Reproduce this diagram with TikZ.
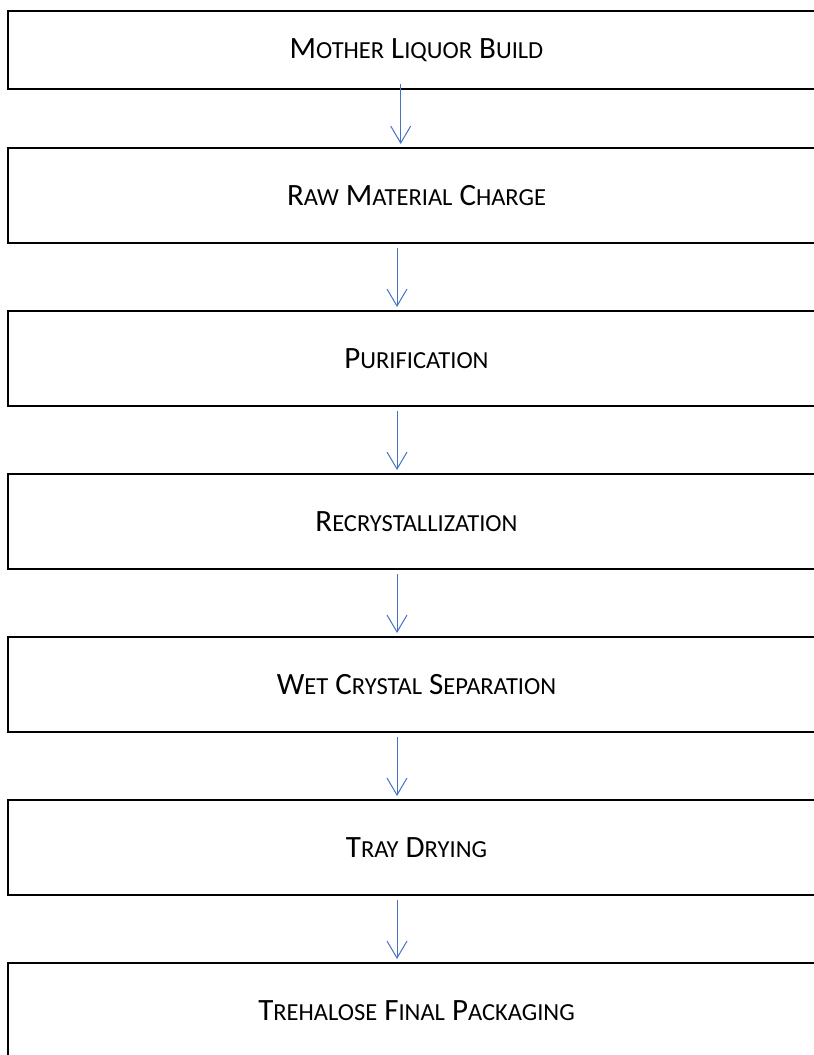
\documentclass[tikz,border=0pt]{standalone}
\usepackage{fontspec}
\setmainfont{Carlito}
\usetikzlibrary{arrows.meta}

\definecolor{flowblue}{HTML}{4472C4}
\newcommand{\lo}[1]{{\fontsize{24.5pt}{28pt}\selectfont #1}}

\begin{document}
\begin{tikzpicture}[
        x=1pt, y=-1pt,
        process-box/.style={
            draw,
            line width=2pt,
            minimum width=877pt,
            minimum height=95pt,
            inner sep=0pt,
            font=\fontsize{31pt}{34pt}\selectfont,
            execute at begin node={\hspace*{-60pt}},
        },
        flow/.style={
            ->,
            >={Straight Barb[length=17pt, width=20pt]},
            draw=flowblue,
            line width=1pt,
            shorten <=4pt,
            shorten >=3pt,
        },
    ]
    \useasboundingbox (0, 0) rectangle (814, 1055);

    \begin{scope}
        \clip (0, 0) rectangle (814, 1055);

        \node[process-box, minimum height=78pt] (stage-1) at (446.5, 50) {M\lo{OTHER} L\lo{IQUOR} B\lo{UILD}};

        \foreach \i/\txt in {
            2/{R\lo{AW} M\lo{ATERIAL} C\lo{HARGE}},
            3/{P\lo{URIFICATION}},
            4/{R\lo{ECRYSTALLIZATION}},
            5/{W\lo{ET} C\lo{RYSTAL} S\lo{EPARATION}},
            6/{T\lo{RAY} D\lo{RYING}},
            7/{T\lo{REHALOSE} F\lo{INAL} P\lo{ACKAGING}}}
        {
            \node[process-box] (stage-\i) at (446.5, {195.5 + 163*(\i-2)}) {\txt};
        }
    \end{scope}

    \draw[flow, shorten <=-6pt] ([xshift=393.7pt]stage-1.south west) -- ([xshift=393.7pt]stage-2.north west);
    \draw[flow] ([xshift=390pt]stage-2.south west) -- ([xshift=390pt]stage-3.north west);
    \draw[flow] ([xshift=390pt]stage-3.south west) -- ([xshift=390pt]stage-4.north west);
    \draw[flow] ([xshift=390pt]stage-4.south west) -- ([xshift=390pt]stage-5.north west);
    \draw[flow] ([xshift=390pt]stage-5.south west) -- ([xshift=390pt]stage-6.north west);
    \draw[flow] ([xshift=390pt]stage-6.south west) -- ([xshift=390pt]stage-7.north west);
\end{tikzpicture}
\end{document}
